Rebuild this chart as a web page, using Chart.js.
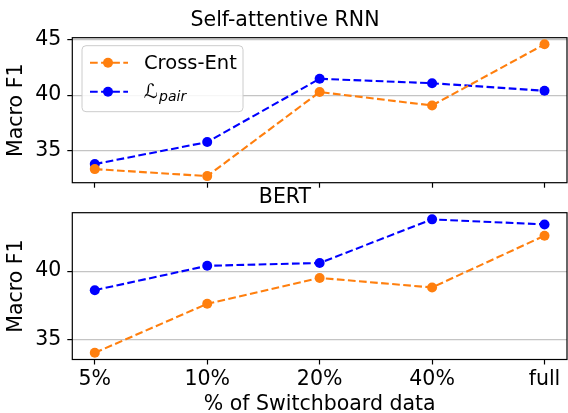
<!DOCTYPE html>
<html><head><meta charset="utf-8">
<script src="https://cdn.jsdelivr.net/npm/chart.js@4"></script>
<style>
html,body{margin:0;padding:0;background:#fff;overflow:hidden;width:568px;height:413px;}
#a{position:absolute;left:0;top:0;}
#b{position:absolute;left:0;top:180px;}
</style></head><body>
<canvas id="a" width="572" height="201"></canvas>
<canvas id="b" width="572" height="240"></canvas>
<script>
// ---- data ----
const categories = ['5%', '10%', '20%', '40%', 'full'];
const seriesLabels = ['Cross-Ent', 'ℒ_pair'];
const rnnCrossEnt = [33.35, 32.72, 40.28, 39.07, 44.57];
const rnnPair = [33.80, 35.78, 41.47, 41.07, 40.39];
const bertCrossEnt = [34.00, 37.60, 39.50, 38.80, 42.60];
const bertPair = [38.60, 40.39, 40.60, 43.80, 43.43];
const panelTitles = ['Self-attentive RNN', 'BERT'];
const xAxisTitle = '% of Switchboard data';
const yAxisTitle = 'Macro F1';
const yTickStep = 5;

const FONT = 'DejaVu Sans';
const FS = 20.5;
const ORANGE = '#ff7f0e';
const BLUE = '#0000ff';

function yRange(a, b) {
  const all = a.concat(b);
  const lo = Math.min(...all), hi = Math.max(...all);
  const m = (hi - lo) * 0.05;
  return [lo - m, hi + m];
}
function toPoints(vals) { return vals.map((v, i) => ({x: i, y: v})); }

const framePlugin = {
  id: 'frame',
  afterDatasetsDraw(chart) {
    const {ctx, chartArea: a} = chart;
    ctx.save();
    ctx.strokeStyle = '#000';
    ctx.lineWidth = 1.2;
    ctx.strokeRect(a.left, a.top, a.right - a.left, a.bottom - a.top);
    ctx.restore();
  }
};

const legendPlugin = {
  id: 'mplLegend',
  afterDraw(chart, args, opts) {
    if (!opts.show) return;
    const {ctx, chartArea: a} = chart;
    const x0 = a.left + 9.7, y0 = a.top + 8, w = 161, h = 66;
    ctx.save();
    ctx.beginPath();
    ctx.roundRect(x0, y0, w, h, 4);
    ctx.fillStyle = 'rgba(255,255,255,0.85)';
    ctx.fill();
    ctx.strokeStyle = '#cccccc';
    ctx.lineWidth = 1;
    ctx.stroke();
    chart.data.datasets.forEach((ds, i) => {
      const cy = y0 + 17 + i * 29;
      ctx.strokeStyle = ds.borderColor;
      ctx.lineWidth = ds.borderWidth;
      ctx.setLineDash(ds.borderDash);
      ctx.beginPath();
      ctx.moveTo(x0 + 8, cy);
      ctx.lineTo(x0 + 46, cy);
      ctx.stroke();
      ctx.setLineDash([]);
      ctx.fillStyle = ds.borderColor;
      ctx.beginPath();
      ctx.arc(x0 + 26, cy, ds.pointRadius, 0, Math.PI * 2);
      ctx.fill();
      ctx.fillStyle = '#000';
      ctx.textBaseline = 'middle';
      ctx.textAlign = 'left';
      const parts = ds.label.split('_');
      ctx.font = '19.5px "' + FONT + '"';
      ctx.fillText(parts[0], x0 + 62, cy + 1);
      if (parts[1]) {
        const mw = ctx.measureText(parts[0]).width;
        ctx.font = 'italic 14px "' + FONT + '"';
        ctx.fillText(parts[1], x0 + 62 + mw + 1, cy + 6);
      }
    });
    ctx.restore();
  }
};

function makeChart(id, title, cross, pair, showX, showLegend, titlePad, layoutPad) {
  const [ymin, ymax] = yRange(cross, pair);
  return new Chart(document.getElementById(id), {
    type: 'line',
    data: {
      datasets: [
        {label: seriesLabels[0], data: toPoints(cross), borderColor: ORANGE, backgroundColor: ORANGE,
         borderWidth: 2.1, borderDash: [7.7, 3.4], pointRadius: 5, pointHoverRadius: 5, pointBorderWidth: 0,
         fill: false, tension: 0},
        {label: seriesLabels[1], data: toPoints(pair), borderColor: BLUE, backgroundColor: BLUE,
         borderWidth: 2.1, borderDash: [7.7, 3.4], pointRadius: 5, pointHoverRadius: 5, pointBorderWidth: 0,
         fill: false, tension: 0}
      ]
    },
    options: {
      responsive: false,
      animation: false,
      events: [],
      layout: {padding: layoutPad},
      plugins: {
        legend: {display: false},
        tooltip: {enabled: false},
        title: {display: true, text: title, color: '#000', font: {family: FONT, size: FS, weight: 'normal'},
                padding: titlePad},
        mplLegend: {show: showLegend}
      },
      scales: {
        x: {
          type: 'linear', min: -0.2, max: 4.2,
          ticks: {display: showX, stepSize: 1, includeBounds: false, autoSkip: false, maxRotation: 0,
                  color: '#000', font: {family: FONT, size: FS}, padding: 3.2,
                  callback: v => (Number.isInteger(v) && categories[v] !== undefined) ? categories[v] : ''},
          grid: {display: true, drawOnChartArea: false, drawTicks: true, tickLength: 5, tickColor: '#000', tickWidth: 1.2},
          border: {display: false},
          title: {display: showX, text: xAxisTitle, color: '#000', font: {family: FONT, size: FS},
                  padding: {top: -2.8, bottom: 0}}
        },
        y: {
          min: ymin, max: ymax,
          ticks: {stepSize: yTickStep, includeBounds: false, color: '#000', font: {family: FONT, size: FS}, padding: 6},
          grid: {color: '#c4c4c4', lineWidth: 1.2, drawTicks: true, tickLength: 5, tickColor: '#000', tickWidth: 1.2},
          border: {display: false},
          title: {display: true, text: yAxisTitle, color: '#000', font: {family: FONT, size: FS},
                  padding: {top: 4.7, bottom: 0}},
          afterFit: s => { s.width = 72.3; }
        }
      }
    },
    plugins: [framePlugin, legendPlugin]
  });
}

makeChart('a', panelTitles[0], rnnCrossEnt, rnnPair, false, true,
          {top: 8.4, bottom: 4.7}, {left: 0, right: 2, top: 0, bottom: 8});
makeChart('b', panelTitles[1], bertCrossEnt, bertPair, true, false,
          {top: 5.7, bottom: 2.4}, {left: 0, right: 2, top: 0, bottom: 2.7});
</script>
</body></html>
